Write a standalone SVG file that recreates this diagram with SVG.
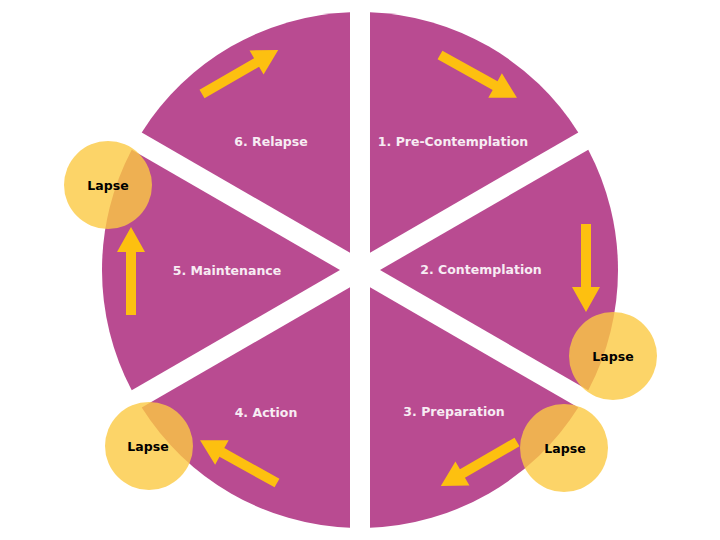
<svg xmlns="http://www.w3.org/2000/svg" width="720" height="540" viewBox="0 0 720 540">
<defs>
<style>
.sector{fill:#B94B91;}
.label{font-family:"DejaVu Sans",Verdana,sans-serif;font-weight:bold;font-size:12.5px;fill:#F7ECF3;text-anchor:middle;}
.lapse circle{fill:#FBC942;fill-opacity:0.8;}
.lapse text{font-family:"DejaVu Sans",Verdana,sans-serif;font-weight:bold;font-size:12.5px;fill:#000;text-anchor:middle;}
.arrow{fill:#FDC010;}
</style>
<path id="arr" d="M0,-5 L63,-5 L63,-14 L88,0 L63,14 L63,5 L0,5 Z"/>
</defs>
<rect width="720" height="540" fill="#fff"/>
<g id="stage1">
<path class="sector" d="M370,252.68 L369.99,12.19 A258,258 0 0 1 578.28,132.46 Z"/>
<text class="label" x="453" y="146">1. Pre-Contemplation</text>
</g>
<g id="stage2">
<path class="sector" d="M380,270 L588.27,149.76 A258,258 0 0 1 588.27,390.24 Z"/>
<text class="label" x="481" y="274">2. Contemplation</text>
</g>
<g id="stage3">
<path class="sector" d="M370,287.32 L578.28,407.54 A258,258 0 0 1 369.99,527.81 Z"/>
<text class="label" x="454" y="416">3. Preparation</text>
</g>
<g id="stage4">
<path class="sector" d="M350,287.32 L350.01,527.81 A258,258 0 0 1 141.72,407.54 Z"/>
<text class="label" x="266" y="417">4. Action</text>
</g>
<g id="stage5">
<path class="sector" d="M340,270 L131.73,390.24 A258,258 0 0 1 131.73,149.76 Z"/>
<text class="label" x="227" y="275">5. Maintenance</text>
</g>
<g id="stage6">
<path class="sector" d="M350,252.68 L141.72,132.46 A258,258 0 0 1 350.01,12.19 Z"/>
<text class="label" x="271" y="146">6. Relapse</text>
</g>
<g id="connectors" class="arrow">
<use href="#arr" transform="translate(202,94) rotate(-30)"/>
<use href="#arr" transform="translate(440,55) rotate(29)"/>
<use href="#arr" transform="translate(586,224) rotate(90)"/>
<use href="#arr" transform="translate(517,442) rotate(150)"/>
<use href="#arr" transform="translate(277,483) rotate(209)"/>
<use href="#arr" transform="translate(131,315) rotate(-90)"/>
</g>
<g id="lapse1" class="lapse">
<circle cx="108" cy="185" r="44"/>
<text x="108" y="190">Lapse</text>
</g>
<g id="lapse2" class="lapse">
<circle cx="613" cy="356" r="44"/>
<text x="613" y="361">Lapse</text>
</g>
<g id="lapse3" class="lapse">
<circle cx="564" cy="448" r="44"/>
<text x="565" y="453">Lapse</text>
</g>
<g id="lapse4" class="lapse">
<circle cx="149" cy="446" r="44"/>
<text x="148" y="451">Lapse</text>
</g>
</svg>
